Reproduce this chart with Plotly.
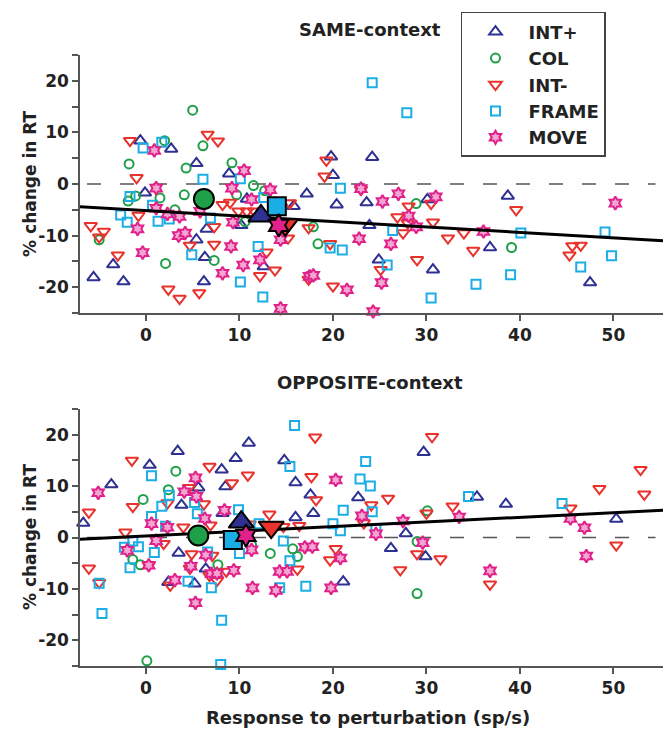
import plotly.graph_objects as go

# ---------------- data: SAME-context ----------------
same_intp_x = [-0.6, 2.7, 5.4, 8.9, -0.1, -5.6, -3.5, -2.4, 6.5, 5.4, 6.3, 6.2, 10.2, 10.8, 12.6, 15.8, 17.2, 19.8, 20.0, 20.4, 23.6, 24.2, 23.9, 24.9, 30.1, 30.7, 38.7, 36.8, 47.5]
same_intp_y = [8.4, 6.8, 4.0, 2.0, -1.7, -18.1, -15.6, -18.9, -8.7, -10.8, -14.2, -18.9, -8.0, -2.9, -16.0, -4.3, -1.9, 5.3, 1.7, -4.0, -3.6, 5.2, -8.0, -14.7, -3.0, -16.6, -2.3, -12.3, -19.1]

same_col_x = [5.0, 2.0, 6.1, -1.8, 4.3, 9.2, 11.5, -1.9, -1.1, 1.5, 4.1, 9.7, 3.1, -5.0, 2.1, 7.3, 12.7, 10.6, 17.9, 18.4, 28.9, 39.1]
same_col_y = [14.3, 8.4, 7.4, 3.9, 3.1, 4.1, -0.3, -3.3, -2.3, -2.7, -2.1, -2.1, -5.0, -10.8, -15.4, -14.8, -1.3, -7.3, -8.3, -11.6, -3.8, -12.3]

same_intm_x = [-1.7, 6.6, 7.7, -1.0, -5.9, -4.5, -5.0, -0.8, -3.0, 2.4, 3.6, 5.7, 7.3, 7.3, 8.2, 9.0, 9.9, 10.8, 11.6, 4.7, 12.9, 12.2, 13.8, 15.4, 15.2, 17.4, 19.3, 19.1, 19.7, 17.4, 20.0, 23.0, 26.9, 28.1, 27.5, 28.0, 30.5, 30.7, 32.3, 34.0, 35.0, 39.6, 29.0, 25.1, 45.3, 45.6, 46.5]
same_intm_y = [8.4, 9.6, 8.3, 1.2, -8.1, -9.2, -10.3, -6.1, -13.8, -20.4, -22.2, -21.1, -11.7, -8.3, -4.0, -3.6, -5.3, -5.3, -5.3, -11.9, -13.2, -17.8, -16.7, -3.7, -10.5, -8.5, 4.6, 1.5, -11.6, -18.5, -19.8, -1.1, -6.4, -4.3, -9.5, -7.6, -3.8, -7.4, -10.5, -9.5, -12.9, -5.0, -14.7, -16.6, -13.8, -12.0, -11.9]

same_frame_x = [-0.3, 1.7, 6.1, -1.7, -2.7, -2.0, 0.7, 1.3, 2.5, 6.9, 4.9, 10.1, 12.6, 12.0, 10.1, 12.5, 20.8, 19.7, 21.0, 24.2, 27.9, 26.4, 25.8, 30.5, 40.1, 35.3, 39.0, 49.1, 49.8, 46.5]
same_frame_y = [7.0, 8.1, 0.9, -2.4, -6.0, -7.4, -4.1, -7.2, -6.8, -6.6, -13.7, 1.0, -2.6, -12.1, -19.0, -21.9, -0.8, -12.4, -12.8, 19.6, 13.8, -9.0, -15.7, -22.1, -9.5, -19.4, -17.6, -9.3, -13.9, -16.1]

same_move_x = [0.9, 1.1, -0.9, -0.35, 1.1, 2.3, 3.6, 3.5, 4.2, 5.8, 9.2, 10.5, 9.3, 9.1, 8.2, 10.4, 12.2, 11.3, 13.3, 14.4, 14.4, 17.5, 17.9, 21.5, 22.8, 23.0, 24.3, 25.3, 27.0, 26.2, 25.2, 28.1, 28.9, 31.0, 36.1, 50.2]
same_move_y = [6.5, -0.8, -8.7, -13.3, -4.7, -5.8, -6.3, -10.0, -9.5, -5.3, -0.8, 2.6, -7.4, -12.1, -17.3, -15.7, -14.7, -3.0, -1.1, -24.1, -10.8, -17.9, -17.7, -20.5, -10.6, -0.9, -24.7, -3.4, -1.9, -11.6, -19.1, -6.2, -8.3, -2.5, -9.2, -3.7]

# group means (order: INT+, COL, INT-, FRAME, MOVE)
same_mean_x = [12.3, 6.2, 14.9, 14.0, 14.2]
same_mean_y = [-6.2, -2.9, -7.9, -4.3, -8.0]

# regression line end points
fit_x = [-7.05, 55.3]
same_fit_y = [-4.4, -11.0]

# ---------------- data: OPPOSITE-context ----------------
opp_intp_x = [-6.7, -3.7, 0.4, 3.4, 3.8, 5.6, 8.1, 8.5, 9.6, 11.0, 8.2, 2.4, 3.5, 5.2, 6.4, 14.8, 16.0, 17.6, 17.9, 16.0, 22.7, 21.1, 27.8, 26.2, 29.9, 29.7, 35.4, 38.5, 50.3]
opp_intp_y = [2.8, 10.3, 14.1, 16.8, 6.3, 9.7, 13.2, 9.9, 15.4, 18.4, 4.7, -8.7, -3.0, -9.0, -6.1, 15.0, 10.7, 8.3, 4.7, 3.9, 7.8, -8.6, 0.8, -2.1, -3.7, 16.6, 7.9, 6.5, 3.6]

opp_col_x = [3.2, 2.4, -0.3, -1.4, -0.6, 7.7, 0.1, 11.3, 13.3, 15.7, 16.2, 30.1, 29.0, 29.0]
opp_col_y = [12.9, 9.3, 7.4, -4.3, -5.3, -5.3, -24.0, -1.5, -3.1, -2.2, -3.7, 5.2, -0.8, -10.9]

opp_intm_x = [-6.1, -6.1, -5.0, -1.5, -1.4, -2.2, 2.3, 4.6, 6.8, 6.2, 6.9, 9.2, 10.9, 4.0, 1.9, 4.9, 7.1, 2.6, 0.3, 4.7, 6.8, 8.6, 7.6, 11.1, 13.2, 14.7, 18.1, 17.7, 18.2, 16.4, 16.2, 20.3, 19.7, 23.3, 24.1, 25.9, 27.2, 29.0, 30.0, 30.6, 31.5, 32.8, 36.8, 45.4, 48.5, 50.3, 52.9, 53.3]
opp_intm_y = [4.9, -6.0, -8.8, 15.0, 6.0, 1.0, 6.7, 9.7, 13.8, 6.5, 2.4, 10.6, 12.1, 2.0, -1.2, -3.2, -3.5, -9.3, -5.4, -6.0, -7.4, -6.6, -8.4, 2.6, 4.5, 2.1, 19.5, 11.8, 7.3, 2.3, -6.2, -2.2, -4.4, 2.8, 6.3, 7.6, -6.3, -3.2, 4.7, 19.6, -4.2, 6.1, -9.1, 5.7, 9.5, -1.5, 13.2, 8.4]

opp_frame_x = [0.6, 2.5, 1.7, 0.6, -2.3, -1.4, -0.8, -1.7, 0.9, 2.1, 5.2, 5.5, -5.0, -4.7, 4.5, 6.6, 7.0, 8.1, 8.0, 9.9, 10.0, 12.1, 15.9, 15.4, 14.3, 17.1, 14.7, 15.4, 20.0, 20.8, 21.1, 23.5, 22.9, 24.0, 24.2, 24.6, 34.5, 44.5]
opp_frame_y = [12.0, 8.2, 6.1, 4.1, -1.9, -0.7, -1.8, -5.9, -2.9, 2.2, 6.8, 4.6, -8.9, -14.8, -8.5, -2.8, -9.8, -16.1, -24.7, 5.4, -3.1, 2.7, 21.8, 13.8, -9.8, -9.5, -0.7, -4.5, 2.7, 1.3, 5.3, 14.8, 11.4, 10.0, 5.0, 1.7, 8.0, 6.6]

opp_move_x = [-5.1, -2.0, 0.6, 1.1, 0.3, 2.3, 3.1, 4.1, 5.3, 5.4, 6.3, 6.4, 4.8, 7.0, 7.6, 9.4, 8.4, 5.3, 10.7, 11.3, 11.4, 13.9, 14.3, 15.1, 17.0, 17.8, 19.8, 20.3, 20.8, 23.1, 24.6, 27.5, 29.6, 33.5, 36.8, 45.4, 46.9, 47.1]
opp_move_y = [8.7, -2.5, 2.7, -0.6, -5.4, 2.0, -8.3, 8.9, 11.6, 8.0, 3.7, -3.4, -5.6, -7.0, -7.0, -6.4, 5.3, -12.7, 0.4, -2.4, -9.8, -10.3, -6.6, -6.6, -1.9, -1.8, -9.8, 11.2, -4.0, 4.2, 0.7, 3.2, -1.0, 4.0, -6.5, 3.7, 1.9, -3.6]

opp_mean_x = [10.2, 5.6, 13.4, 9.3, 10.7]
opp_mean_y = [3.0, 0.4, 2.0, -0.5, 0.4]
opp_fit_y = [-0.33, 5.3]

# ---------------- styling ----------------
names = ["INT+", "COL", "INT-", "FRAME", "MOVE"]
colors = ["#2E3192", "#1E9F48", "#E8322B", "#1BAEE6", "#E0218A"]
open_symbols = ["triangle-up-open", "circle-open", "triangle-down-open", "square-open", "hexagram"]
fill_symbols = ["triangle-up", "circle", "triangle-down", "square", "hexagram"]
open_sizes = [11, 9, 11, 9, 10]
mean_sizes = [22, 20, 22, 18, 17]
MOVE_FILL = "#F4A6D2"

FONT = "DejaVu Sans, Liberation Sans, sans-serif"
XR = [-7.05, 55.3]
YR = [-25, 25]

fig = go.Figure()

panels = [
    ("x", "y", [(same_intp_x, same_intp_y), (same_col_x, same_col_y), (same_intm_x, same_intm_y),
                (same_frame_x, same_frame_y), (same_move_x, same_move_y)], same_mean_x, same_mean_y, same_fit_y, True),
    ("x2", "y2", [(opp_intp_x, opp_intp_y), (opp_col_x, opp_col_y), (opp_intm_x, opp_intm_y),
                  (opp_frame_x, opp_frame_y), (opp_move_x, opp_move_y)], opp_mean_x, opp_mean_y, opp_fit_y, False),
]

for xa, ya, series, mx, my, fy, leg in panels:
    # zero reference line
    fig.add_trace(go.Scatter(x=[-6.3, 54.5], y=[0, 0], mode="lines", xaxis=xa, yaxis=ya,
                             line=dict(color="#555555", width=1.5, dash="14px,19px"),
                             showlegend=False, hoverinfo="skip"))
    for i, (sx, sy) in enumerate(series):
        fig.add_trace(go.Scatter(
            x=sx, y=sy, mode="markers", name=names[i], xaxis=xa, yaxis=ya,
            showlegend=leg, cliponaxis=False,
            marker=dict(symbol=open_symbols[i], size=open_sizes[i],
                        color=MOVE_FILL if i == 4 else colors[i],
                        line=dict(width=2, color=colors[i]))))
    fig.add_trace(go.Scatter(x=fit_x, y=fy, mode="lines", xaxis=xa, yaxis=ya,
                             line=dict(color="black", width=3), showlegend=False, hoverinfo="skip"))
    for i in [1, 0, 3, 2, 4]:
        fig.add_trace(go.Scatter(
            x=[mx[i]], y=[my[i]], mode="markers", xaxis=xa, yaxis=ya, showlegend=False,
            cliponaxis=False,
            marker=dict(symbol=fill_symbols[i], size=mean_sizes[i], color=colors[i],
                        line=dict(width=2, color="black"))))

yticks = [-25, -20, -15, -10, -5, 0, 5, 10, 15, 20, 25]
ytext = ["", "-20", "", "-10", "", "0", "", "10", "", "20", ""]
xticks = [0, 10, 20, 30, 40, 50]

axis_common = dict(showgrid=False, zeroline=False, showline=True, linecolor="#555555", linewidth=1.5,
                   ticks="outside", tickcolor="#555555", tickwidth=1.5, ticklen=6,
                   tickfont=dict(family=FONT, size=17, color="#222222", weight="bold"))

# The page body has an 8px margin; the figure is sized so that it fits the window exactly.
fig.update_layout(
    width=656, height=723,
    margin=dict(l=72, r=1, t=47, b=65),
    paper_bgcolor="white", plot_bgcolor="white",
    xaxis=dict(domain=[0, 1], range=XR, anchor="y", tickvals=xticks, **axis_common),
    yaxis=dict(domain=[0.5777, 1], range=YR, anchor="x", tickvals=yticks, ticktext=ytext, **axis_common),
    xaxis2=dict(domain=[0, 1], range=XR, anchor="y2", tickvals=xticks, **axis_common),
    yaxis2=dict(domain=[0, 0.4206], range=YR, anchor="x2", tickvals=yticks, ticktext=ytext, **axis_common),
    legend=dict(x=0.6535, y=1.0704, xanchor="left", yanchor="top", bgcolor="white",
                bordercolor="#444444", borderwidth=1.5, tracegroupgap=0,
                itemwidth=56, entrywidth=80, entrywidthmode="pixels",
                font=dict(family=FONT, size=18, color="#222222", weight="bold")),
    annotations=[
        dict(text="SAME-context", x=0.497, y=1.041, xref="paper", yref="paper", showarrow=False,
             xanchor="center", yanchor="middle", font=dict(family=FONT, size=18, color="#222222", weight="bold")),
        dict(text="OPPOSITE-context", x=0.497, y=0.4648, xref="paper", yref="paper", showarrow=False,
             xanchor="center", yanchor="middle", font=dict(family=FONT, size=18, color="#222222", weight="bold")),
        dict(text="% change in RT", x=-0.0858, y=0.789, xref="paper", yref="paper", showarrow=False,
             textangle=-90, xanchor="center", yanchor="middle",
             font=dict(family=FONT, size=17, color="#222222", weight="bold")),
        dict(text="% change in RT", x=-0.0858, y=0.211, xref="paper", yref="paper", showarrow=False,
             textangle=-90, xanchor="center", yanchor="middle",
             font=dict(family=FONT, size=17, color="#222222", weight="bold")),
        dict(text="Response to perturbation (sp/s)", x=0.494, y=-0.0835, xref="paper", yref="paper",
             showarrow=False, xanchor="center", yanchor="middle",
             font=dict(family=FONT, size=18, color="#222222", weight="bold")),
    ],
)

fig.write_html("out.html")
